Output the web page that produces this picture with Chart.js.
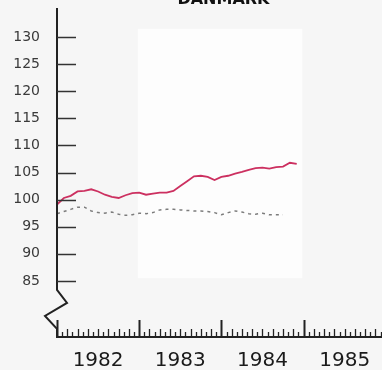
<!DOCTYPE html>
<html>
<head>
<meta charset="utf-8">
<script src="https://cdn.jsdelivr.net/npm/chart.js@4.4.1/dist/chart.umd.min.js"></script>
<style>
  html, body { margin: 0; padding: 0; background: #f6f6f6; }
  #wrap { width: 382px; height: 370px; position: relative; }
</style>
</head>
<body>
<div id="wrap"><canvas id="chart"></canvas></div>
<script>
'use strict';
// ---- data (monthly, Jan 1982 = month 0) ----
var title = 'DANMARK';
var years = ['1982', '1983', '1984', '1985'];
var yTicks = [85, 90, 95, 100, 105, 110, 115, 120, 125, 130];
var redSeries = [99.1, 100.3, 100.7, 101.5, 101.6, 101.9, 101.5, 100.9, 100.5, 100.3, 100.8, 101.2,
                 101.3, 100.9, 101.1, 101.3, 101.3, 101.6, 102.5, 103.4, 104.3, 104.4, 104.2, 103.6,
                 104.2, 104.4, 104.8, 105.1, 105.5, 105.8, 105.9, 105.7, 106.0, 106.1, 106.8, 106.6];
var graySeries = [97.4, 97.8, 98.2, 98.6, 98.6, 97.9, 97.6, 97.5, 97.7, 97.3, 97.1, 97.2,
                  97.5, 97.4, 97.6, 98.1, 98.2, 98.2, 98.1, 98.0, 97.9, 97.9, 97.8, 97.6,
                  97.2, 97.6, 97.9, 97.7, 97.4, 97.3, 97.5, 97.2, 97.2, 97.2];

var toPoints = function (arr) {
  return arr.map(function (v, i) { return { x: i, y: v }; });
};

// axes drawn by hand: broken y axis, ticks, x axis with month ticks
var axisPlugin = {
  id: 'axisPlugin',
  beforeDraw: function (chart) {
    var ctx = chart.ctx, x = chart.scales.x, y = chart.scales.y;
    // lighter scanned panel
    ctx.save();
    ctx.fillStyle = '#fdfdfd';
    ctx.fillRect(x.getPixelForValue(11.8), y.getPixelForValue(131.5), x.getPixelForValue(35.8) - x.getPixelForValue(11.8), y.getPixelForValue(85.5) - y.getPixelForValue(131.5));
    ctx.restore();
  },
  afterDraw: function (chart) {
    var ctx = chart.ctx, x = chart.scales.x, y = chart.scales.y, a = chart.chartArea;
    var x0 = a.left, yb = a.bottom, y85 = y.getPixelForValue(85);
    ctx.save();
    ctx.strokeStyle = '#222';
    ctx.lineWidth = 2;
    ctx.lineJoin = 'miter';
    ctx.beginPath();
    ctx.moveTo(x0, a.top);
    ctx.lineTo(x0, y85 + 9);
    ctx.lineTo(x0 + 10, y85 + 22);
    ctx.lineTo(x0 - 12, y85 + 35);
    ctx.lineTo(x0, y85 + 48);
    ctx.lineTo(x0, yb);
    ctx.lineTo(a.right, yb);
    ctx.stroke();
    // y ticks
    ctx.lineWidth = 1.5;
    ctx.strokeStyle = '#333';
    yTicks.forEach(function (v) {
      var py = Math.round(y.getPixelForValue(v)) + 0.5;
      ctx.beginPath();
      ctx.moveTo(x0, py);
      ctx.lineTo(x0 + 19, py);
      ctx.stroke();
    });
    // x ticks: year marks tall, subdivisions alternating
    var sub = 16;
    ctx.strokeStyle = '#222';
    for (var i = 0; i <= years.length * sub; i++) {
      var m = i * 12 / sub;
      if (m > x.max) break;
      var px = Math.round(x.getPixelForValue(m)) + 0.5;
      var h = (i % sub === 0) ? 17 : (i % 2 === 0 ? 8 : 5);
      ctx.lineWidth = (i % sub === 0) ? 2 : 1.3;
      ctx.beginPath();
      ctx.moveTo(px, yb);
      ctx.lineTo(px, yb - h);
      ctx.stroke();
    }
    // clipped title
    ctx.fillStyle = '#111';
    ctx.font = 'bold 16px "DejaVu Sans"';
    ctx.textAlign = 'center';
    ctx.textBaseline = 'alphabetic';
    ctx.fillText(title, x.getPixelForValue(24.3), 4);
    ctx.restore();
  }
};

var ctx = document.getElementById('chart').getContext('2d');
window.myLine = new Chart(ctx, {
  type: 'line',
  data: {
    datasets: [{
      data: toPoints(redSeries),
      borderColor: '#cc3060',
      borderWidth: 1.8,
      pointRadius: 0,
      tension: 0
    }, {
      data: toPoints(graySeries),
      borderColor: '#7c7c7c',
      borderWidth: 1.5,
      borderDash: [3, 4],
      pointRadius: 0,
      tension: 0
    }]
  },
  options: {
    responsive: true,
    maintainAspectRatio: false,
    animation: false,
    layout: { padding: { top: 8, left: 0, right: 0, bottom: 0 } },
    plugins: { legend: { display: false }, tooltip: { enabled: false } },
    scales: {
      x: {
        type: 'linear',
        min: 0,
        max: 47.45,
        grid: { display: false, drawTicks: false },
        border: { display: false },
        afterBuildTicks: function (s) {
          s.ticks = years.map(function (yr, i) { return { value: i * 12 + 6 }; });
        },
        afterFit: function (s) { s.height = 33; s.paddingLeft = 0; s.paddingRight = 0; },
        ticks: {
          padding: 12,
          maxRotation: 0,
          autoSkip: false,
          color: '#1a1a1a',
          font: { family: 'DejaVu Sans', size: 20 },
          callback: function (v) { return years[Math.round((v - 6) / 12)]; }
        }
      },
      y: {
        min: 74.65,
        max: 135.35,
        grid: { display: false, drawTicks: false },
        border: { display: false },
        afterBuildTicks: function (s) {
          s.ticks = yTicks.map(function (v) { return { value: v }; });
        },
        afterFit: function (s) { s.width = 57; s.paddingTop = 0; s.paddingBottom = 0; },
        ticks: {
          padding: 17,
          color: '#3a3a3a',
          font: { family: 'DejaVu Sans', size: 14 }
        }
      }
    }
  },
  plugins: [axisPlugin]
});
</script>
</body>
</html>
